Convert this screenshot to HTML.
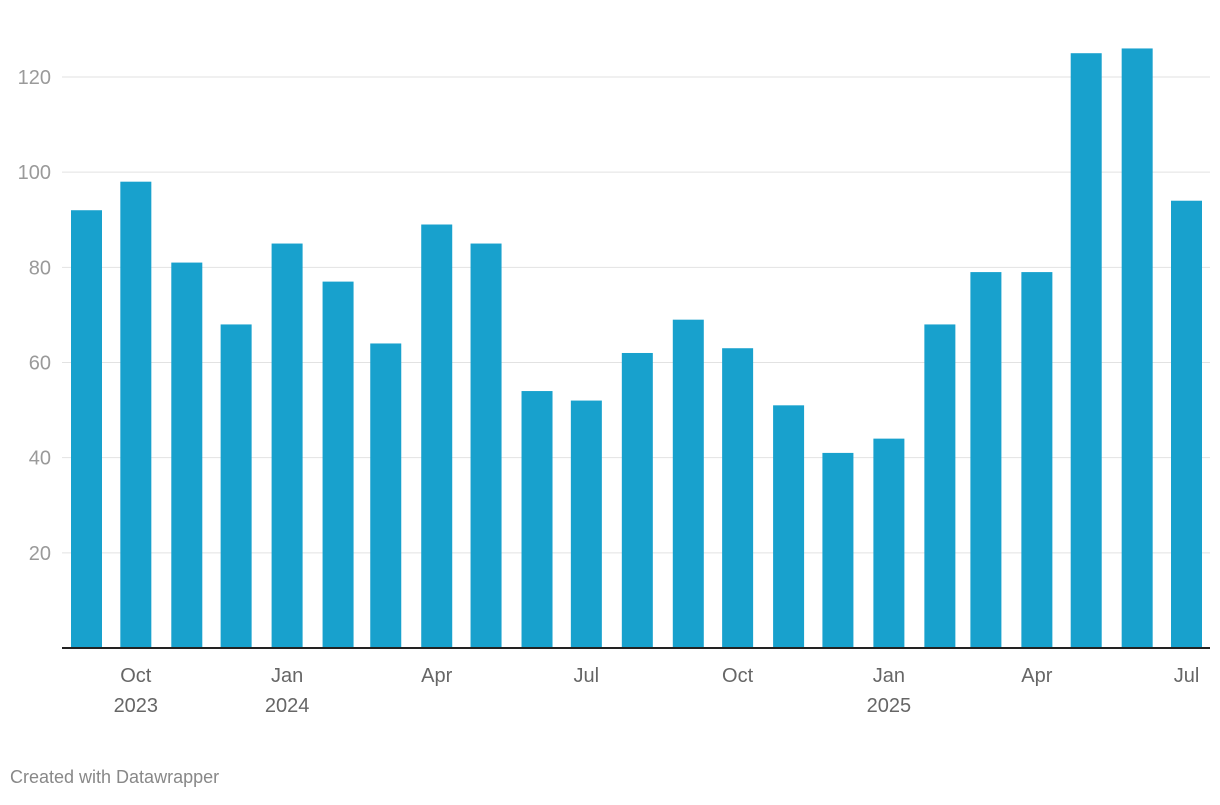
<!DOCTYPE html>
<html><head><meta charset="utf-8"><style>
body{margin:0;background:#fff;width:1220px;height:800px;overflow:hidden;font-family:"Liberation Sans",Arial,sans-serif}
</style></head><body>
<svg id="chart" width="1220" height="800" xmlns="http://www.w3.org/2000/svg"></svg>
<script>
const months = ["2023-09","2023-10","2023-11","2023-12","2024-01","2024-02","2024-03","2024-04","2024-05","2024-06","2024-07","2024-08","2024-09","2024-10","2024-11","2024-12","2025-01","2025-02","2025-03","2025-04","2025-05","2025-06","2025-07"];
const values = [92,98,81,68,85,77,64,89,85,54,52,62,69,63,51,41,44,68,79,79,125,126,94];
const yTicks = [20,40,60,80,100,120];
const xTickMonths = ["2023-10","2024-01","2024-04","2024-07","2024-10","2025-01","2025-04","2025-07"];
const xTickLabels = [["Oct","2023"],["Jan","2024"],["Apr",""],["Jul",""],["Oct",""],["Jan","2025"],["Apr",""],["Jul",""]];

const svg = document.getElementById('chart');
const NS = "http://www.w3.org/2000/svg";
const y0 = 648, pxPerUnit = (648-77)/120;
const y = v => y0 - v*pxPerUnit;
const t0 = Date.UTC(2023,8,1), t1 = Date.UTC(2025,6,1);
const x = m => { const [yy,mm]=m.split('-').map(Number); return 71 + (Date.UTC(yy,mm-1,1)-t0)/(t1-t0)*1100; };
const bw = 31;
function mk(tag, attrs){ const e=document.createElementNS(NS,tag); for(const k in attrs) e.setAttribute(k,attrs[k]); svg.appendChild(e); return e; }

yTicks.forEach(v=>{
  const g = mk('line',{x1:62,x2:1210,y1:y(v),y2:y(v),stroke:'#e2e2e2','stroke-width':1});
  
  
  const t = mk('text',{x:51,y:y(v)+7,'text-anchor':'end','font-size':20,fill:'#9a9a9a'});
  t.textContent = v;
  
  
});

months.forEach((m,i)=>{
  const r = mk('rect',{x:x(m),y:y(values[i]),width:bw,height:y0-y(values[i]),fill:'#18a1cd'});
  
  
});

const ax = mk('line',{x1:62,x2:1210,y1:y0,y2:y0,stroke:'#222','stroke-width':2});



xTickMonths.forEach((m,i)=>{
  const cx = x(m)+bw/2;
  const t = mk('text',{x:cx,y:682,'text-anchor':'middle','font-size':20,fill:'#666'});
  t.textContent = xTickLabels[i][0];
  
  
  if(xTickLabels[i][1]){
    const t2 = mk('text',{x:cx,y:712,'text-anchor':'middle','font-size':20,fill:'#666'});
    t2.textContent = xTickLabels[i][1];
    
    
  }
});

const f = mk('text',{x:10,y:783,'font-size':18,fill:'#888'});
f.textContent = "Created with Datawrapper";


</script>
</body></html>
